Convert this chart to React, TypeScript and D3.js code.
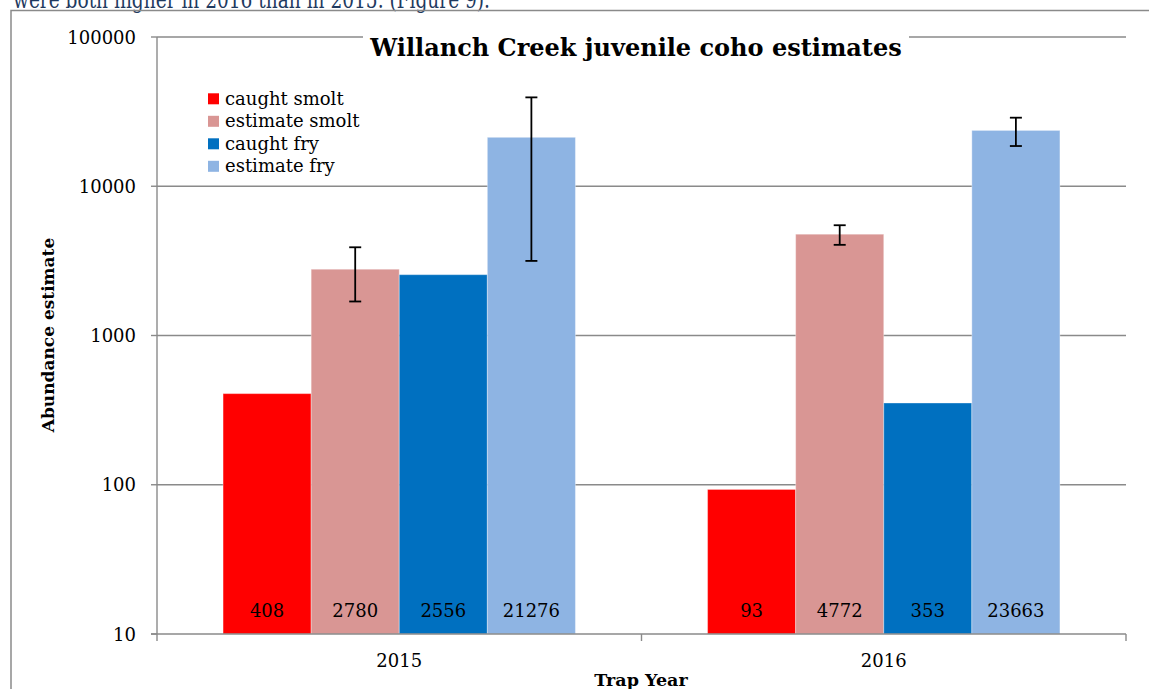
import React from "react";
import * as d3 from "d3";

// Trap years and series
const years = ["2015", "2016"];
const seriesNames = ["caught smolt", "estimate smolt", "caught fry", "estimate fry"];
const seriesColors = ["#FF0000", "#D99694", "#0070C0", "#8EB4E3"];

// Counts per series, one value per year
const caughtSmolt = [408, 93];
const estimateSmolt = [2780, 4772];
const caughtFry = [2556, 353];
const estimateFry = [21276, 23663];

// Confidence limits for the estimates [low, high]; null where none drawn
const estimateSmoltCI: ([number, number] | null)[] = [[1690, 3900], [4050, 5480]];
const estimateFryCI: ([number, number] | null)[] = [[3160, 39400], [18600, 28800]];

const yTicks = [10, 100, 1000, 10000, 100000];

const W = 1149;
const H = 689;
const FONT = "'DejaVu Serif', serif";

export default function App() {
  const left = 157;
  const right = 1126;
  const top = 37;
  const bottom = 634;

  const y = d3.scaleLog().domain([10, 100000]).range([bottom, top]);
  const x0 = d3.scaleBand<string>().domain(years).range([left, right]).padding(0);
  const x1 = d3
    .scaleBand<string>()
    .domain(seriesNames)
    .range([0, x0.bandwidth()])
    .paddingInner(0)
    .paddingOuter(0.75);

  const seriesValues = [caughtSmolt, estimateSmolt, caughtFry, estimateFry];
  const seriesCI = [null, estimateSmoltCI, null, estimateFryCI];

  const grid = "#8a8a8a";

  return (
    <svg
      width={W}
      height={H}
      style={{ position: "absolute", left: 0, top: 0, background: "#fff" }}
      fontFamily={FONT}
    >
      {/* running text from the page above the figure */}
      <text
        x={13}
        y={8}
        fontSize={24}
        fill="#1f3a5f"
        textLength={477}
        lengthAdjust="spacingAndGlyphs"
      >
        were both higher in 2016 than in 2015. (Figure 9).
      </text>

      {/* chart frame */}
      <rect x={11} y={10.5} width={W + 20} height={H + 20} fill="none" stroke={grid} strokeWidth={1.5} />

      {/* gridlines */}
      {yTicks.slice(1).map((t) => (
        <line key={t} x1={left} x2={right} y1={y(t)} y2={y(t)} stroke={grid} strokeWidth={1.4} />
      ))}

      {/* bars */}
      {years.map((yr, i) => (
        <g key={yr} transform={`translate(${x0(yr)},0)`}>
          {seriesNames.map((s, j) => {
            const v = seriesValues[j][i];
            return (
              <rect
                key={s}
                x={x1(s)}
                y={y(v)}
                width={x1.bandwidth()}
                height={bottom - y(v)}
                fill={seriesColors[j]}
                stroke="#ffffff"
                strokeOpacity={0.35}
                strokeWidth={1}
              />
            );
          })}
        </g>
      ))}

      {/* error bars */}
      {years.map((yr, i) => (
        <g key={yr} transform={`translate(${x0(yr)},0)`}>
          {seriesNames.map((s, j) => {
            const ci = seriesCI[j] ? seriesCI[j]![i] : null;
            if (!ci) return null;
            const cx = (x1(s) as number) + x1.bandwidth() / 2;
            return (
              <g key={s} stroke="#000" strokeWidth={1.8}>
                <line x1={cx} x2={cx} y1={y(ci[0])} y2={y(ci[1])} />
                <line x1={cx - 6} x2={cx + 6} y1={y(ci[0])} y2={y(ci[0])} />
                <line x1={cx - 6} x2={cx + 6} y1={y(ci[1])} y2={y(ci[1])} />
              </g>
            );
          })}
        </g>
      ))}

      {/* value labels at the foot of each bar */}
      {years.map((yr, i) => (
        <g key={yr} transform={`translate(${x0(yr)},0)`}>
          {seriesNames.map((s, j) => (
            <text
              key={s}
              x={(x1(s) as number) + x1.bandwidth() / 2}
              y={617}
              fontSize={18}
              textAnchor="middle"
              fill="#000"
            >
              {seriesValues[j][i]}
            </text>
          ))}
        </g>
      ))}

      {/* axes */}
      <line x1={left} x2={left} y1={top} y2={bottom} stroke={grid} strokeWidth={1.4} />
      <line x1={left - 6} x2={right} y1={bottom} y2={bottom} stroke={grid} strokeWidth={1.4} />
      {yTicks.map((t) => (
        <g key={t}>
          <line x1={left - 6} x2={left} y1={y(t)} y2={y(t)} stroke={grid} strokeWidth={1.4} />
          <text x={136} y={y(t) + 6.5} fontSize={18} textAnchor="end" fill="#000">
            {t}
          </text>
        </g>
      ))}
      {[left, left + x0.bandwidth(), right].map((xx, k) => (
        <line key={k} x1={xx} x2={xx} y1={bottom} y2={bottom + 7} stroke={grid} strokeWidth={1.4} />
      ))}
      {years.map((yr) => (
        <text
          key={yr}
          x={(x0(yr) as number) + x0.bandwidth() / 2}
          y={667}
          fontSize={18}
          textAnchor="middle"
          fill="#000"
        >
          {yr}
        </text>
      ))}

      {/* axis titles */}
      <text x={641} y={686} fontSize={17.5} fontWeight="bold" textAnchor="middle" fill="#000">
        Trap Year
      </text>
      <text
        transform="translate(54,335) rotate(-90)"
        fontSize={17}
        fontWeight="bold"
        textAnchor="middle"
        fill="#000"
      >
        Abundance estimate
      </text>

      {/* chart title on a white plate */}
      <rect x={363} y={20} width={546} height={44} fill="#fff" />
      <text x={636} y={56} fontSize={24} fontWeight="bold" textAnchor="middle" fill="#000">
        Willanch Creek juvenile coho estimates
      </text>

      {/* legend */}
      {seriesNames.map((s, j) => (
        <g key={s} transform={`translate(208,${98.8 + j * 22.5})`}>
          <rect x={0} y={-5.5} width={11} height={11} fill={seriesColors[j]} />
          <text x={17} y={6} fontSize={18} fill="#000">
            {s}
          </text>
        </g>
      ))}
    </svg>
  );
}
